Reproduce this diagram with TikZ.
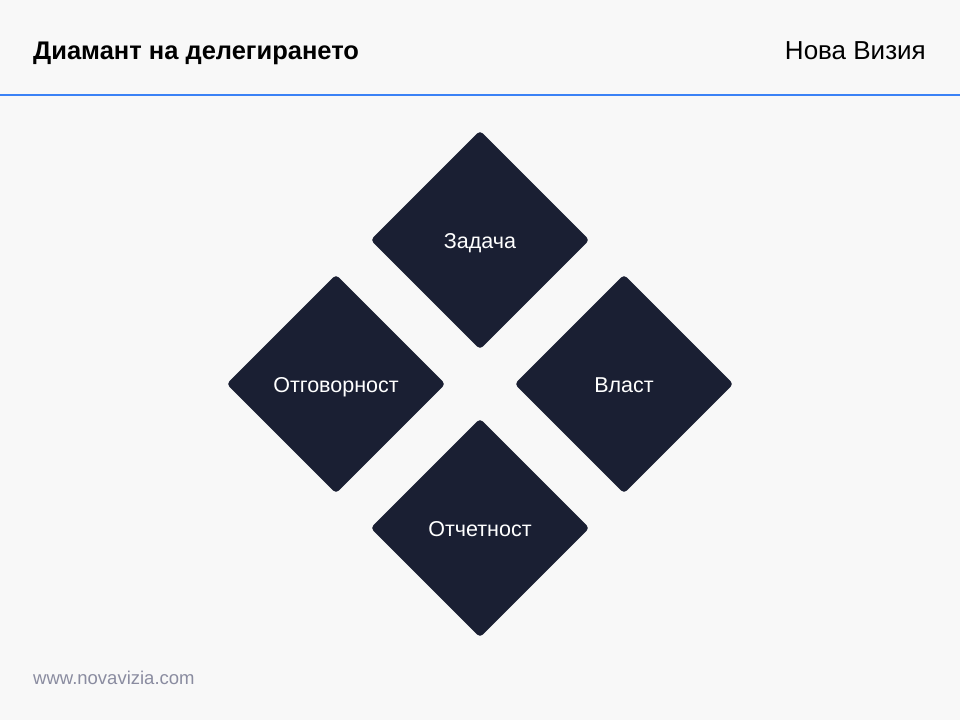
\documentclass[tikz,border=0pt]{standalone}
\usepackage{fontspec}
\setmainfont{Liberation Sans}
\usetikzlibrary{shapes.geometric}
\definecolor{bg}{HTML}{F8F8F8}
\definecolor{navy}{HTML}{1A1F33}
\definecolor{accent}{HTML}{3B82F6}
\definecolor{foot}{HTML}{8A8CA0}
\begin{document}
\begin{tikzpicture}[x=1pt,y=-1pt,
  dia/.style={diamond, fill=navy, draw=none, minimum width=219pt, minimum height=219pt, inner sep=0pt, rounded corners=4pt, text=white, font=\fontsize{21.5}{25}\selectfont, text height=16pt, text depth=0pt},
  lbl/.style={inner sep=0pt}]
\fill[bg] (0,0) rectangle (960,720);
\useasboundingbox (0,0) rectangle (960,720);
\node[lbl, anchor=base west, font=\fontsize{25.5}{30}\selectfont\bfseries] (title) at (33,59) {Диамант на делегирането};
\node[lbl, anchor=base east, font=\fontsize{26}{30}\selectfont] (brand) at (926,59) {Нова Визия};
\coordinate (l0) at (0,95);
\coordinate (l1) at (960,95);
\draw[accent, line width=2pt] (l0) -- (l1);
\node[dia] (task) at (480,240) {Задача};
\node[dia] (resp) at (336,384) {Отговорност};
\node[dia] (auth) at (624,384) {Власт};
\node[dia] (acc) at (480,528) {Отчетност};
\node[lbl, anchor=base west, text=foot, font=\fontsize{18.5}{22}\selectfont] (url) at (33,684) {www.novavizia.com};
\end{tikzpicture}
\end{document}
